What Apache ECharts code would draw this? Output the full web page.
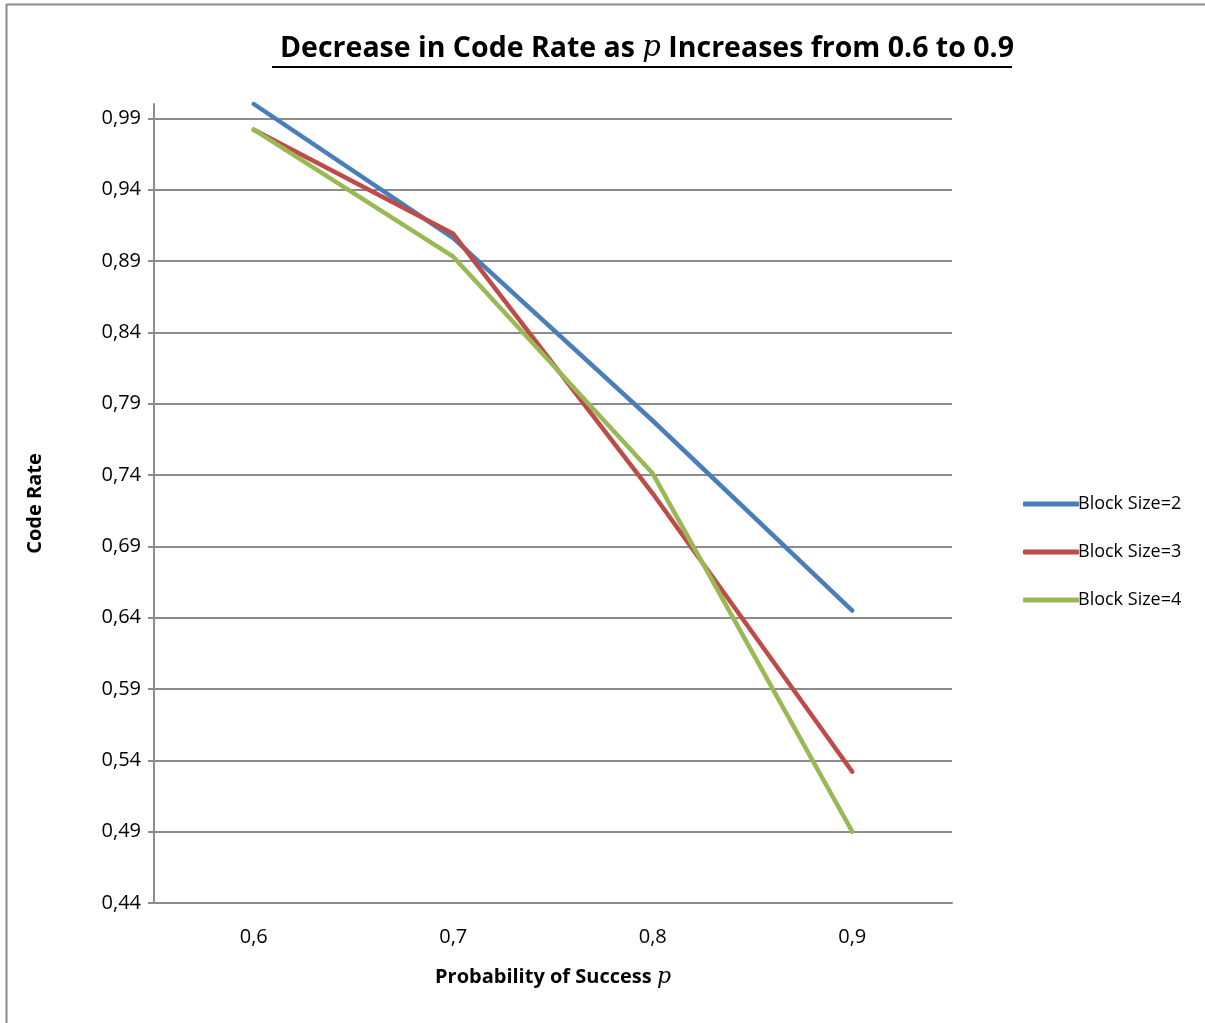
<!DOCTYPE html>
<html>
<head>
<meta charset="utf-8">
<script src="https://cdn.jsdelivr.net/npm/echarts@6/dist/echarts.min.js"></script>
<style>
html,body{margin:0;padding:0;background:#fff;}
#chart{width:1205px;height:1023px;}
</style>
</head>
<body>
<div id="chart"></div>
<script>
const categories = ['0,6', '0,7', '0,8', '0,9'];
const blockSize2 = [1.000, 0.906, 0.778, 0.645];
const blockSize3 = [0.982, 0.909, 0.727, 0.532];
const blockSize4 = [0.982, 0.893, 0.741, 0.490];
const seriesNames = ['Block Size=2', 'Block Size=3', 'Block Size=4'];
const yTicks = [0.44, 0.49, 0.54, 0.59, 0.64, 0.69, 0.74, 0.79, 0.84, 0.89, 0.94, 0.99];
const yMin = 0.44, yMax = 1.0, yStep = 0.05;

const font = "'Open Sans', 'Noto Sans', sans-serif";
const serif = "'DejaVu Serif', 'Liberation Serif', serif";
const chart = echarts.init(document.getElementById('chart'));
const colors = ['#4A7EBB', '#BE4B48', '#98B954'];

const mk = (name, data, c) => ({
  name, type: 'line', data, symbol: 'none', smooth: false,
  lineStyle: { color: c, width: 4.5, cap: 'round', join: 'round' },
  itemStyle: { color: c },
  clip: false
});

chart.setOption({
  animation: false,
  backgroundColor: '#fff',
  title: {
    text: 'Decrease in Code Rate as {i|p} Increases from 0.6 to 0.9',
    left: 642, top: 29, textAlign: 'center',
    textStyle: {
      fontFamily: font, fontWeight: 'bold', fontSize: 28.5, color: '#000',
      rich: { i: { fontFamily: serif, fontStyle: 'italic', fontWeight: 'normal', fontSize: 29, color: '#000' } }
    }
  },
  legend: {
    orient: 'vertical', left: 1018, top: 490, itemGap: 30,
    itemWidth: 56, itemHeight: 5, icon: 'roundRect',
    textStyle: { fontFamily: font, fontSize: 18, color: '#000', padding: [0, 0, 0, -6] },
    data: seriesNames
  },
  grid: { left: 154, right: 253, top: 104, bottom: 120, containLabel: false },
  xAxis: {
    type: 'category', data: categories, boundaryGap: true,
    name: 'Probability of Success {i|p}', nameLocation: 'middle', nameGap: 63,
    nameTextStyle: {
      fontFamily: font, fontWeight: 'bold', fontSize: 20, color: '#000',
      rich: { i: { fontFamily: serif, fontStyle: 'italic', fontWeight: 'normal', fontSize: 22, color: '#000' } }
    },
    axisLine: { lineStyle: { color: '#8c8c8c', width: 2 } },
    axisTick: { show: false },
    axisLabel: { fontFamily: font, fontSize: 20, color: '#000', margin: 24 }
  },
  yAxis: {
    type: 'value', min: yMin, max: yMax, interval: yStep,
    name: 'Code Rate', nameLocation: 'middle', nameGap: 109, nameRotate: 90,
    nameTextStyle: { fontFamily: font, fontWeight: 'bold', fontSize: 20, color: '#000' },
    axisLine: { show: true, lineStyle: { color: '#8c8c8c', width: 2 } },
    axisTick: { show: true, length: 6, customValues: yTicks, lineStyle: { color: '#8c8c8c', width: 2 } },
    axisLabel: {
      fontFamily: font, fontSize: 20, color: '#000', margin: 13,
      customValues: yTicks,
      formatter: v => v.toFixed(2).replace('.', ',')
    },
    splitLine: { show: true, showMaxLine: true, lineStyle: { color: '#8c8c8c', width: 2 } }
  },
  graphic: [
    { type: 'line', shape: { x1: 272, y1: 67, x2: 1012, y2: 67 }, style: { stroke: '#000', lineWidth: 2 } },
    { type: 'line', shape: { x1: 6, y1: 4.5, x2: 1205, y2: 4.5 }, style: { stroke: '#8c8c8c', lineWidth: 2 } },
    { type: 'line', shape: { x1: 6.5, y1: 4, x2: 6.5, y2: 1023 }, style: { stroke: '#8c8c8c', lineWidth: 2 } }
  ],
  series: [
    mk(seriesNames[0], blockSize2, colors[0]),
    mk(seriesNames[1], blockSize3, colors[1]),
    mk(seriesNames[2], blockSize4, colors[2])
  ]
});
</script>
</body>
</html>
